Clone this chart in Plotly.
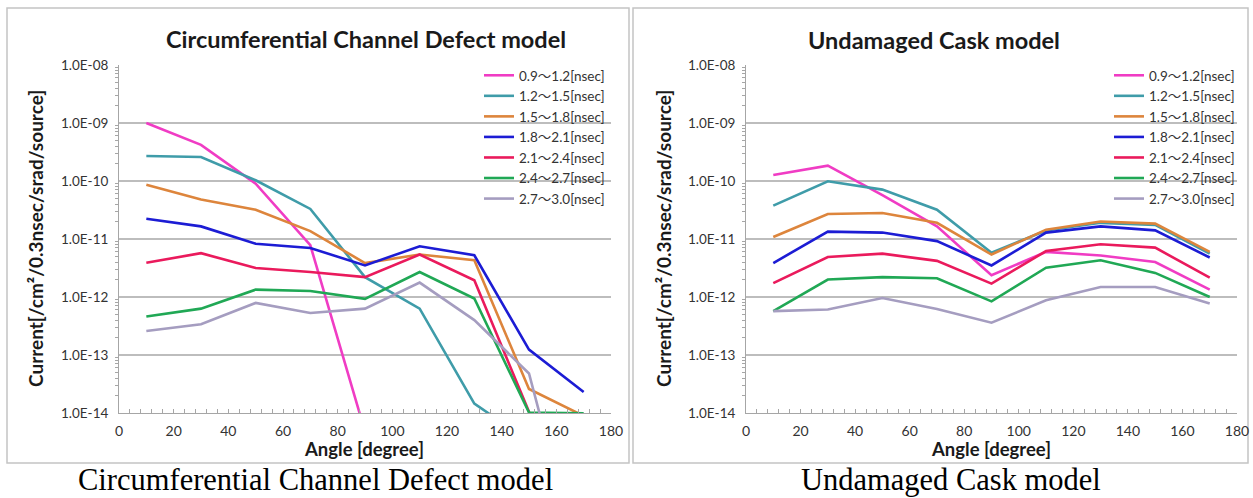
import plotly.graph_objects as go

W, H = 1253, 498

# ---------------- data ----------------
angles = [10, 30, 50, 70, 90, 110, 130, 150, 170]
series_names = ["0.9～1.2[nsec]", "1.2～1.5[nsec]", "1.5～1.8[nsec]", "1.8～2.1[nsec]",
                "2.1～2.4[nsec]", "2.4～2.7[nsec]", "2.7～3.0[nsec]"]

defect_09_12 = [1.0e-9, 4.2e-10, 9.0e-11, 7.8e-12, 4.8e-15, None, None, None, None]
defect_12_15 = [2.7e-10, 2.6e-10, 1.03e-10, 3.3e-11, 2.2e-12, 6.3e-13, 1.45e-14, 3.3e-15, None]
defect_15_18 = [8.6e-11, 4.8e-11, 3.2e-11, 1.37e-11, 3.85e-12, 5.4e-12, 4.3e-12, 2.6e-14, 8.9e-15]
defect_18_21 = [2.24e-11, 1.65e-11, 8.3e-12, 7.0e-12, 3.5e-12, 7.5e-12, 5.25e-12, 1.24e-13, 2.3e-14]
defect_21_24 = [3.9e-12, 5.7e-12, 3.16e-12, 2.7e-12, 2.2e-12, 5.4e-12, 1.94e-12, 1.05e-14, 1e-16]
defect_24_27 = [4.6e-13, 6.3e-13, 1.34e-12, 1.27e-12, 9.3e-13, 2.7e-12, 9.4e-13, 1.02e-14, 9.85e-15]
defect_27_30 = [2.6e-13, 3.4e-13, 7.9e-13, 5.3e-13, 6.3e-13, 1.77e-12, 4.0e-13, 4.8e-14, 1.3e-17]

undamaged_09_12 = [1.27e-10, 1.84e-10, 5.7e-11, 1.65e-11, 2.37e-12, 6.0e-12, 5.2e-12, 4.0e-12, 1.34e-12]
undamaged_12_15 = [3.76e-11, 9.9e-11, 7.1e-11, 3.2e-11, 5.8e-12, 1.4e-11, 1.9e-11, 1.75e-11, 5.6e-12]
undamaged_15_18 = [1.08e-11, 2.7e-11, 2.8e-11, 1.9e-11, 5.4e-12, 1.45e-11, 2.0e-11, 1.84e-11, 6.0e-12]
undamaged_18_21 = [3.85e-12, 1.34e-11, 1.29e-11, 9.2e-12, 3.5e-12, 1.29e-11, 1.65e-11, 1.41e-11, 4.8e-12]
undamaged_21_24 = [1.74e-12, 4.9e-12, 5.6e-12, 4.2e-12, 1.7e-12, 6.2e-12, 8.1e-12, 7.1e-12, 2.15e-12]
undamaged_24_27 = [5.7e-13, 2.0e-12, 2.2e-12, 2.1e-12, 8.4e-13, 3.2e-12, 4.3e-12, 2.6e-12, 1.0e-12]
undamaged_27_30 = [5.7e-13, 6.1e-13, 9.6e-13, 6.2e-13, 3.6e-13, 8.8e-13, 1.49e-12, 1.49e-12, 7.7e-13]

y_tick_values = [1e-14, 1e-13, 1e-12, 1e-11, 1e-10, 1e-9, 1e-8]
y_tick_labels = ["1.0E-14", "1.0E-13", "1.0E-12", "1.0E-11", "1.0E-10", "1.0E-09", "1.0E-08"]
x_tick_values = [0, 20, 40, 60, 80, 100, 120, 140, 160, 180]

title_left = "Circumferential Channel Defect model"
title_right = "Undamaged Cask model"
y_title = "Current[/cm²/0.3nsec/srad/source]"
x_title = "Angle [degree]"

# ---------------- styling ----------------
colors = ["#f03cc4", "#3f9ca9", "#dd853c", "#1c1cd4", "#ea1a5c", "#20a855", "#a59dc0"]
defect = [defect_09_12, defect_12_15, defect_15_18, defect_18_21, defect_21_24, defect_24_27, defect_27_30]
undamaged = [undamaged_09_12, undamaged_12_15, undamaged_15_18, undamaged_18_21,
             undamaged_21_24, undamaged_24_27, undamaged_27_30]

def px_x(p):
    return p / W

def px_y(p):
    return 1 - p / H

fig = go.Figure()
for name, col, ys in zip(series_names, colors, defect):
    fig.add_trace(go.Scatter(x=angles, y=ys, name=name, mode="lines",
                             line=dict(color=col, width=2.6), xaxis="x", yaxis="y",
                             legend="legend"))
for name, col, ys in zip(series_names, colors, undamaged):
    fig.add_trace(go.Scatter(x=angles, y=ys, name=name, mode="lines",
                             line=dict(color=col, width=2.6), xaxis="x2", yaxis="y2",
                             legend="legend2"))

minor_y = [k * 10.0 ** e for e in range(-14, -8) for k in range(2, 10)]

tickfont = dict(family="Lato, Open Sans, sans-serif", size=13.5, color="#333333")
yax = dict(type="log", range=[-14, -8], tickmode="array", tickvals=y_tick_values,
           ticktext=y_tick_labels, showgrid=True, gridcolor="#bdbdbd", gridwidth=1.6,
           showline=True, linecolor="#a6a6a6", linewidth=1, ticks="", tickfont=tickfont,
           ticklabelstandoff=7, zeroline=False, automargin=False,
           minor=dict(tickmode="array", tickvals=minor_y, ticks="outside", ticklen=3,
                      tickcolor="#a6a6a6", showgrid=False))
xax = dict(range=[0, 180], tickmode="array", tickvals=x_tick_values, showgrid=False,
           showline=True, linecolor="#a6a6a6", linewidth=1, ticks="inside", ticklen=4,
           tickcolor="#a6a6a6", tickfont=dict(family="Lato, Open Sans, sans-serif", size=14, color="#333333"),
           ticklabelstandoff=5, zeroline=False, automargin=False,
           minor=dict(dtick=4, ticks="inside", ticklen=4, tickcolor="#a6a6a6"))

left_dom = [px_x(119), px_x(611)]
right_dom = [px_x(746), px_x(1237)]
ydom = [px_y(413), px_y(65)]

legend_common = dict(bgcolor="rgba(0,0,0,0)", borderwidth=0, yanchor="top", xanchor="right",
                     font=dict(family="Lato, Noto Sans CJK JP, sans-serif", size=13.5, color="#333333"),
                     tracegroupgap=0, itemwidth=30)

fig.update_layout(
    width=W, height=H, margin=dict(l=0, r=0, t=0, b=0, pad=0, autoexpand=False),
    paper_bgcolor="white", plot_bgcolor="white", showlegend=True,
    xaxis=dict(domain=left_dom, anchor="y", **xax),
    yaxis=dict(domain=ydom, anchor="x", **yax),
    xaxis2=dict(domain=right_dom, anchor="y2", **xax),
    yaxis2=dict(domain=ydom, anchor="x2", **yax),
    legend=dict(x=px_x(610), y=px_y(60), **legend_common),
    legend2=dict(x=px_x(1240), y=px_y(60), **legend_common),
)

# panel frames
frame = dict(type="rect", xref="paper", yref="paper", line=dict(color="#c4c4c4", width=1.5),
             fillcolor="rgba(0,0,0,0)", layer="below")
fig.add_shape(x0=px_x(7), x1=px_x(629), y0=px_y(463), y1=px_y(8), **frame)
fig.add_shape(x0=px_x(633), x1=px_x(1248), y0=px_y(463), y1=px_y(8), **frame)

def ann(text, x, y, size, bold=False, family="Lato, Open Sans, sans-serif", angle=0, color="#1a1a1a"):
    fig.add_annotation(text=f"<b>{text}</b>" if bold else text, x=px_x(x), y=px_y(y),
                       xref="paper", yref="paper", showarrow=False, xanchor="center",
                       yanchor="middle", textangle=angle,
                       font=dict(family=family, size=size, color=color))

ann(title_left, 366, 39, 23.5, bold=True)
ann(title_right, 934, 40, 23.5, bold=True)
ann(y_title, 35, 239, 19, bold=True, angle=-90)
ann(y_title, 663, 239, 19, bold=True, angle=-90)
ann(x_title, 364, 449, 18.5, bold=True)
ann(x_title, 991, 449, 18.5, bold=True)
ann(title_left, 315, 480, 30.5, family="Liberation Serif, Times New Roman, serif", color="#000000")
ann(title_right, 951, 480, 30.5, family="Liberation Serif, Times New Roman, serif", color="#000000")

fig.write_html("out.html")
